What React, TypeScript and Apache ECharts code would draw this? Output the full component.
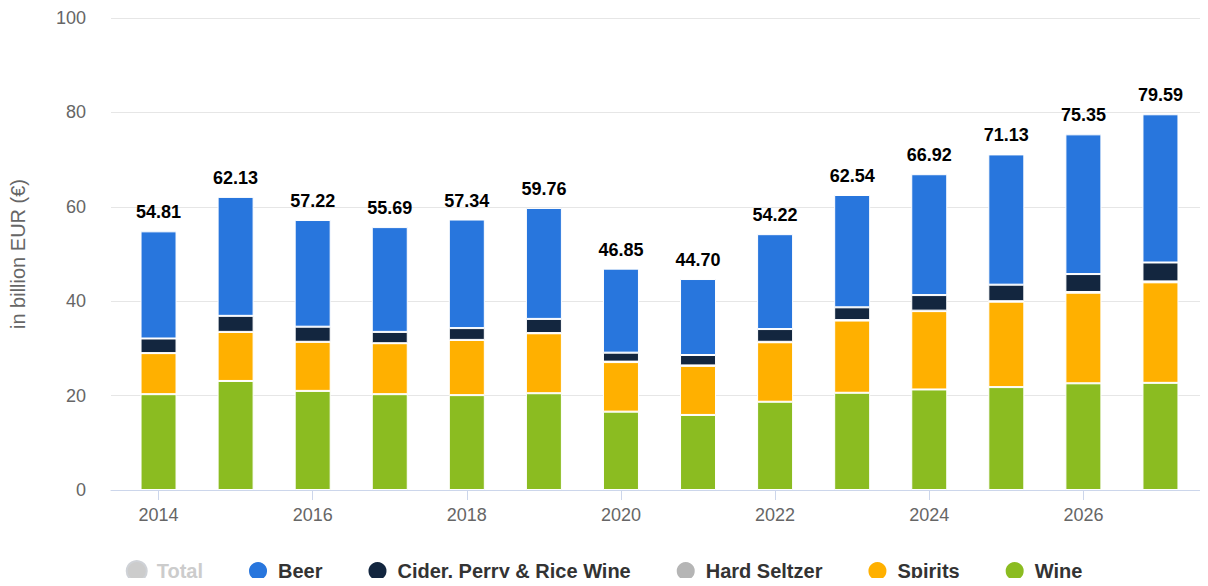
import React, { useEffect, useRef } from "react";
import * as echarts from "echarts";

const years = ["2014","2015","2016","2017","2018","2019","2020","2021","2022","2023","2024","2025","2026","2027"];
const totals = [54.81, 62.13, 57.22, 55.69, 57.34, 59.76, 46.85, 44.70, 54.22, 62.54, 66.92, 71.13, 75.35, 79.59];
const wine = [20.3, 23.1, 21.0, 20.3, 20.1, 20.5, 16.6, 15.9, 18.7, 20.6, 21.3, 21.8, 22.6, 22.7];
const spirits = [8.7, 10.4, 10.4, 10.8, 11.7, 12.7, 10.5, 10.4, 12.6, 15.3, 16.6, 18.1, 19.2, 21.3];
const hardSeltzer = [0, 0, 0, 0, 0, 0.05, 0.1, 0.1, 0.1, 0.1, 0.1, 0.1, 0.15, 0.2];
const cider = [3.1, 3.4, 3.2, 2.4, 2.5, 3.0, 1.9, 2.2, 2.7, 2.7, 3.3, 3.5, 3.8, 4.0];
const beer = [22.7, 25.2, 22.6, 22.2, 23.0, 23.5, 17.8, 16.1, 20.1, 23.8, 25.6, 27.6, 29.6, 31.4];
const yTicks = [0, 20, 40, 60, 80, 100];

const FONT = "'Liberation Sans', Arial, Helvetica, sans-serif";

export default function App() {
  const ref = useRef<HTMLDivElement>(null);
  useEffect(() => {
    if (!ref.current) return;
    const chart = echarts.init(ref.current, undefined, { renderer: "svg" });
    const barBase = {
      type: "bar" as const,
      stack: "a",
      xAxisIndex: 1,
      yAxisIndex: 1,
      barWidth: 36,
      itemStyle: { borderColor: "#ffffff", borderWidth: 1 },
    };
    chart.setOption({
      animation: false,
      textStyle: { fontFamily: FONT },
      grid: [
        { left: 110, right: 2, top: 18, bottom: 96 },
        { left: 120, right: 9, top: 18, bottom: 96 },
      ],
      legend: {
        data: ["Total", "Beer", "Cider, Perry & Rice Wine", "Hard Seltzer", "Spirits", "Wine"],
        selected: { Total: false },
        top: 555,
        left: "center",
        icon: "circle",
        itemWidth: 20,
        itemHeight: 20,
        itemGap: 44,
        inactiveColor: "#cccccc",
        textStyle: { fontSize: 20, fontWeight: "bold", color: "#333333", fontFamily: FONT, padding: [0, 0, 0, 5] },
      },
      xAxis: [
        {
          gridIndex: 0,
          type: "category",
          data: [""],
          axisLine: { show: true, lineStyle: { color: "#ccd6eb", width: 1 } },
          axisTick: { show: false },
          axisLabel: { show: false },
          splitLine: { show: false },
        },
        {
          gridIndex: 1,
          type: "category",
          data: years,
          axisLine: { show: false },
          axisTick: { show: true, alignWithLabel: true, interval: 1, length: 10, lineStyle: { color: "#ccd6eb" } },
          axisLabel: { interval: 1, color: "#666666", fontSize: 18, margin: 16, fontFamily: FONT },
          splitLine: { show: false },
        },
      ],
      yAxis: [
        {
          gridIndex: 0,
          type: "value",
          min: yTicks[0],
          max: yTicks[yTicks.length - 1],
          interval: 20,
          name: "in billion EUR (€)",
          nameLocation: "middle",
          nameGap: 83,
          nameTextStyle: { color: "#666666", fontSize: 20, fontFamily: FONT },
          axisLine: { show: false },
          axisTick: { show: false },
          axisLabel: { color: "#666666", fontSize: 18, margin: 25, fontFamily: FONT },
          splitLine: { lineStyle: { color: "#e6e6e6", width: 1 } },
        },
        {
          gridIndex: 1,
          type: "value",
          min: 0,
          max: 100,
          interval: 20,
          show: false,
          splitLine: { show: false },
        },
      ],
      series: [
        { ...barBase, name: "Wine", data: wine, itemStyle: { ...barBase.itemStyle, color: "#8bbc21" } },
        { ...barBase, name: "Spirits", data: spirits, itemStyle: { ...barBase.itemStyle, color: "#ffb000" } },
        { ...barBase, name: "Hard Seltzer", data: hardSeltzer, itemStyle: { ...barBase.itemStyle, color: "#b5b5b5" } },
        { ...barBase, name: "Cider, Perry & Rice Wine", data: cider, itemStyle: { ...barBase.itemStyle, color: "#13263f" } },
        {
          ...barBase,
          name: "Beer",
          data: beer,
          itemStyle: { ...barBase.itemStyle, color: "#2876dd" },
          label: {
            show: true,
            position: "top",
            distance: 10,
            formatter: (p: any) => totals[p.dataIndex].toFixed(2),
            color: "#000000",
            fontSize: 18,
            fontWeight: "bold",
            fontFamily: FONT,
          },
        },
        { ...barBase, stack: "t", name: "Total", data: totals, itemStyle: { ...barBase.itemStyle, color: "#cccccc" } },
      ],
    });
    return () => chart.dispose();
  }, []);
  return <div ref={ref} style={{ width: 1208, height: 586, margin: -8 }} />;
}
